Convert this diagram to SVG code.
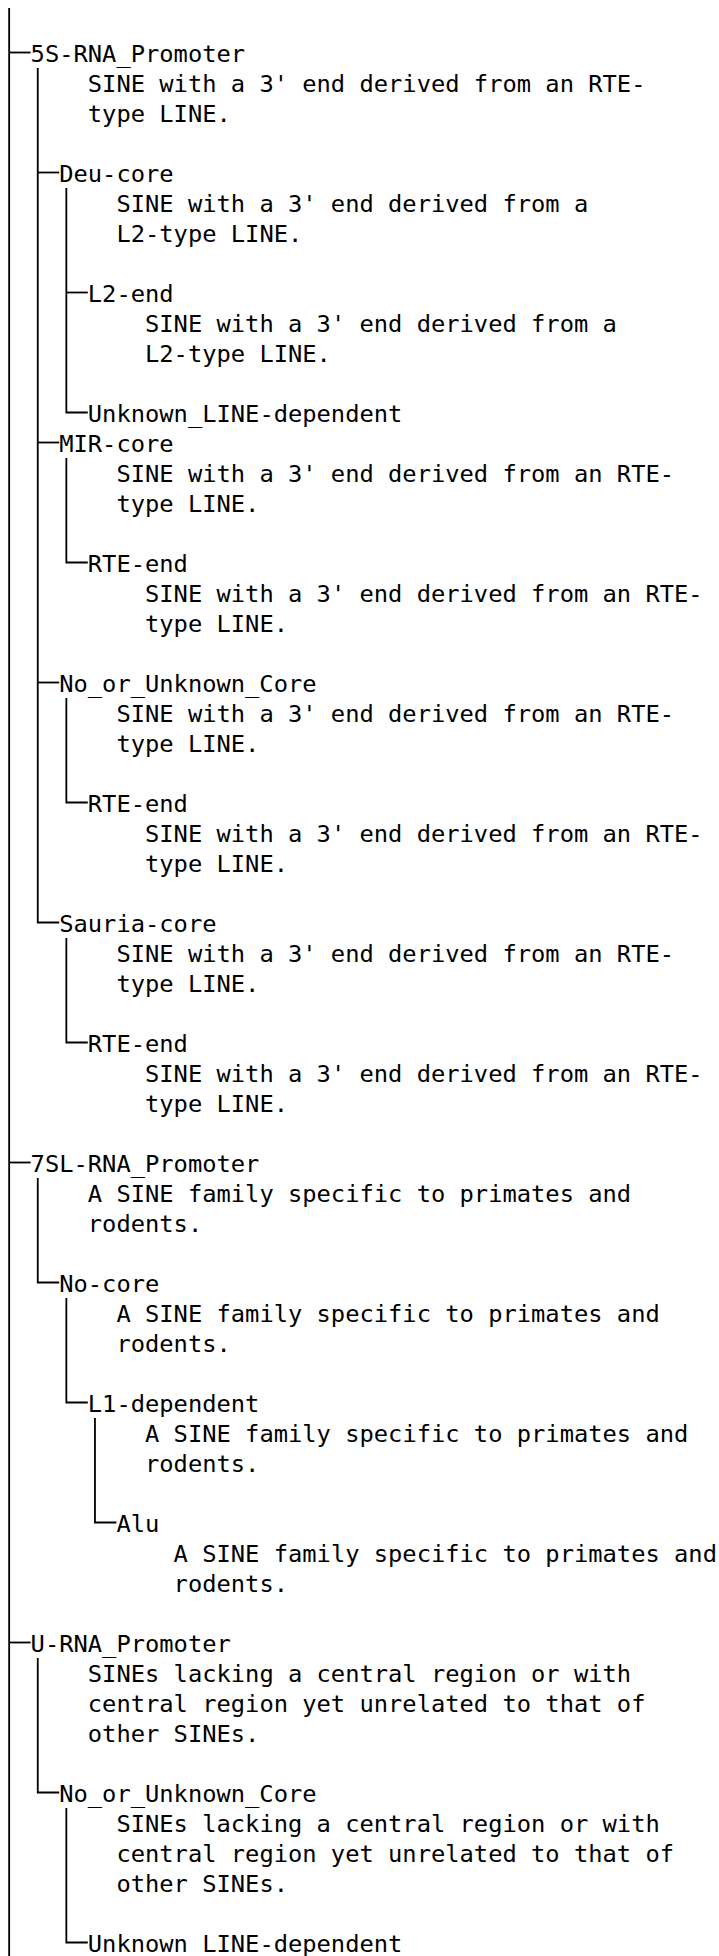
<svg xmlns="http://www.w3.org/2000/svg" width="719" height="1956" viewBox="0 0 719 1956">
  <style>
    text { font-family: "DejaVu Sans Mono", "Liberation Mono", monospace; font-size: 23.75px; fill: #000; }
    .guide { fill: none; stroke: #000; stroke-width: 1.8; }
  </style>
  <rect width="719" height="1956" fill="#fff"/>

  <!-- tree guides: column c sits at x = 9.15 + 14.3c, row i branches at y = 22.5 + 30i -->
  <g id="connectors" class="guide">
    <!-- root trunk -->
    <path d="M9.15,8 V1956"/>
    <path d="M9.15,52.5 H30.6"/>
    <path d="M9.15,1162.5 H30.6"/>
    <path d="M9.15,1642.5 H30.6"/>

    <!-- 5S-RNA_Promoter -->
    <path d="M37.75,68 V922.5 H59.2"/>
    <path d="M37.75,172.5 H59.2"/>
    <path d="M37.75,442.5 H59.2"/>
    <path d="M37.75,682.5 H59.2"/>

    <!-- Deu-core -->
    <path d="M66.35,188 V412.5 H87.8"/>
    <path d="M66.35,292.5 H87.8"/>
    <!-- MIR-core -->
    <path d="M66.35,458 V562.5 H87.8"/>
    <!-- No_or_Unknown_Core -->
    <path d="M66.35,698 V802.5 H87.8"/>
    <!-- Sauria-core -->
    <path d="M66.35,938 V1042.5 H87.8"/>

    <!-- 7SL-RNA_Promoter -->
    <path d="M37.75,1178 V1282.5 H59.2"/>
    <path d="M66.35,1298 V1402.5 H87.8"/>
    <path d="M94.95,1418 V1522.5 H116.4"/>

    <!-- U-RNA_Promoter -->
    <path d="M37.75,1658 V1792.5 H59.2"/>
    <path d="M66.35,1808 V1942.5 H87.8"/>
  </g>

  <g id="n-5s-rna-promoter">
    <text x="30.6" y="62">5S-RNA_Promoter</text>
    <text x="87.8" y="92">SINE with a 3' end derived from an RTE-</text>
    <text x="87.8" y="122">type LINE.</text>
  </g>
  <g id="n-deu-core">
    <text x="59.2" y="182">Deu-core</text>
    <text x="116.4" y="212">SINE with a 3' end derived from a</text>
    <text x="116.4" y="242">L2-type LINE.</text>
  </g>
  <g id="n-l2-end">
    <text x="87.8" y="302">L2-end</text>
    <text x="145" y="332">SINE with a 3' end derived from a</text>
    <text x="145" y="362">L2-type LINE.</text>
  </g>
  <g id="n-unknown-line-dependent-1">
    <text x="87.8" y="422">Unknown_LINE-dependent</text>
  </g>
  <g id="n-mir-core">
    <text x="59.2" y="452">MIR-core</text>
    <text x="116.4" y="482">SINE with a 3' end derived from an RTE-</text>
    <text x="116.4" y="512">type LINE.</text>
  </g>
  <g id="n-rte-end-1">
    <text x="87.8" y="572">RTE-end</text>
    <text x="145" y="602">SINE with a 3' end derived from an RTE-</text>
    <text x="145" y="632">type LINE.</text>
  </g>
  <g id="n-no-or-unknown-core-1">
    <text x="59.2" y="692">No_or_Unknown_Core</text>
    <text x="116.4" y="722">SINE with a 3' end derived from an RTE-</text>
    <text x="116.4" y="752">type LINE.</text>
  </g>
  <g id="n-rte-end-2">
    <text x="87.8" y="812">RTE-end</text>
    <text x="145" y="842">SINE with a 3' end derived from an RTE-</text>
    <text x="145" y="872">type LINE.</text>
  </g>
  <g id="n-sauria-core">
    <text x="59.2" y="932">Sauria-core</text>
    <text x="116.4" y="962">SINE with a 3' end derived from an RTE-</text>
    <text x="116.4" y="992">type LINE.</text>
  </g>
  <g id="n-rte-end-3">
    <text x="87.8" y="1052">RTE-end</text>
    <text x="145" y="1082">SINE with a 3' end derived from an RTE-</text>
    <text x="145" y="1112">type LINE.</text>
  </g>

  <g id="n-7sl-rna-promoter">
    <text x="30.6" y="1172">7SL-RNA_Promoter</text>
    <text x="87.8" y="1202">A SINE family specific to primates and</text>
    <text x="87.8" y="1232">rodents.</text>
  </g>
  <g id="n-no-core">
    <text x="59.2" y="1292">No-core</text>
    <text x="116.4" y="1322">A SINE family specific to primates and</text>
    <text x="116.4" y="1352">rodents.</text>
  </g>
  <g id="n-l1-dependent">
    <text x="87.8" y="1412">L1-dependent</text>
    <text x="145" y="1442">A SINE family specific to primates and</text>
    <text x="145" y="1472">rodents.</text>
  </g>
  <g id="n-alu">
    <text x="116.4" y="1532">Alu</text>
    <text x="173.6" y="1562">A SINE family specific to primates and</text>
    <text x="173.6" y="1592">rodents.</text>
  </g>

  <g id="n-u-rna-promoter">
    <text x="30.6" y="1652">U-RNA_Promoter</text>
    <text x="87.8" y="1682">SINEs lacking a central region or with</text>
    <text x="87.8" y="1712">central region yet unrelated to that of</text>
    <text x="87.8" y="1742">other SINEs.</text>
  </g>
  <g id="n-no-or-unknown-core-2">
    <text x="59.2" y="1802">No_or_Unknown_Core</text>
    <text x="116.4" y="1832">SINEs lacking a central region or with</text>
    <text x="116.4" y="1862">central region yet unrelated to that of</text>
    <text x="116.4" y="1892">other SINEs.</text>
  </g>
  <g id="n-unknown-line-dependent-2">
    <text x="87.8" y="1952">Unknown_LINE-dependent</text>
  </g>
</svg>
